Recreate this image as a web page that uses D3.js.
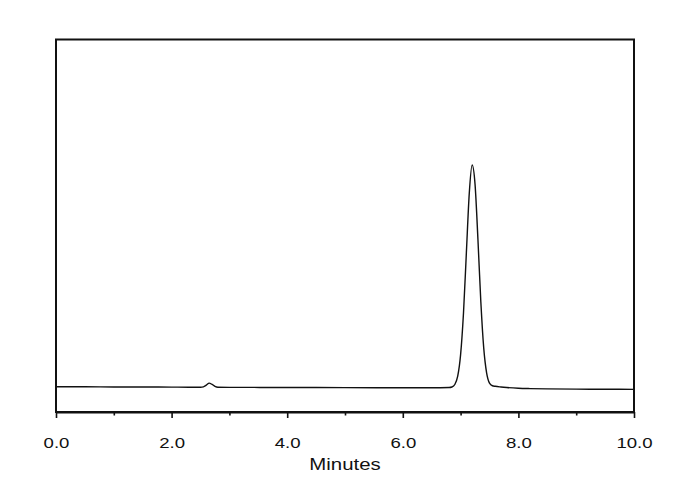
<!DOCTYPE html>
<html>
<head>
<meta charset="utf-8">
<script src="https://cdn.jsdelivr.net/npm/d3@7"></script>
<style>
  html, body { margin: 0; padding: 0; background: #fff; }
  svg { display: block; }
</style>
</head>
<body>
<svg id="chart" width="690" height="490"></svg>
<script>
// Chromatogram signal (arbitrary units)
const times = [
  0.0, 0.5, 1.0, 1.2, 1.5, 2.0, 2.3, 2.5, 2.55, 2.6, 2.65, 2.7, 2.75, 2.8, 3.0,
  4.0, 5.0, 6.0, 6.5, 6.8, 6.85, 6.9, 6.95, 7.0, 7.05, 7.1, 7.15, 7.2, 7.25,
  7.3, 7.35, 7.4, 7.45, 7.5, 7.55, 7.6, 7.7, 7.8, 8.0, 8.2, 8.5, 9.0, 9.5, 10.0
];
const signal = [
  6.78, 6.76, 6.72, 6.70, 6.71, 6.68, 6.66, 6.66, 6.75, 7.2, 7.75, 7.4, 6.9, 6.66, 6.62,
  6.58, 6.54, 6.50, 6.50, 6.58, 6.72, 7.38, 9.6, 15.4, 26.6, 42.8, 58.7, 66.3, 61.1,
  46.3, 29.6, 17.2, 10.5, 7.75, 7.05, 6.9, 6.72, 6.58, 6.38, 6.28, 6.2, 6.15, 6.1, 6.08
];
const majorTicks = [0, 2, 4, 6, 8, 10];
const minorTicks = [1, 3, 5, 7, 9];
const xLabel = "Minutes";

const svg = d3.select("#chart");
const mLeft = 56, mRight = 634, mTop = 39.5, mBottom = 412;
const fontFam = "'Liberation Sans', Arial, sans-serif";

const x = d3.scaleLinear().domain([0, 10]).range([mLeft, mRight]);
const y = d3.scaleLinear().domain([0, 100]).range([mBottom, mTop]);

// frame
svg.append("rect")
  .attr("x", mLeft).attr("y", mTop)
  .attr("width", mRight - mLeft).attr("height", mBottom - mTop)
  .attr("fill", "none").attr("stroke", "#111").attr("stroke-width", 2);

// data line
const data = times.map((t, i) => [t, signal[i]]);
svg.append("path")
  .datum(data)
  .attr("fill", "none")
  .attr("stroke", "#111")
  .attr("stroke-width", 1.4)
  .attr("stroke-linejoin", "round")
  .attr("d", d3.line().x(d => x(d[0])).y(d => y(d[1])).curve(d3.curveMonotoneX));

// major ticks with labels
const xAxis = d3.axisBottom(x)
  .tickValues(majorTicks)
  .tickFormat(d3.format(".1f"))
  .tickSize(6)
  .tickSizeOuter(0)
  .tickPadding(19);
const gx = svg.append("g").attr("transform", `translate(0,${mBottom})`).call(xAxis);
gx.select(".domain").attr("stroke", "#111").attr("stroke-width", 2);
gx.selectAll(".tick line").attr("stroke", "#111").attr("stroke-width", 1.6);
gx.selectAll(".tick text")
  .attr("font-family", fontFam)
  .attr("font-size", 15.5)
  .attr("fill", "#111")
  .attr("transform", "scale(1.2,1)");

// minor ticks
const xMinor = d3.axisBottom(x).tickValues(minorTicks).tickFormat("").tickSize(3.5).tickSizeOuter(0);
const gm = svg.append("g").attr("transform", `translate(0,${mBottom})`).call(xMinor);
gm.select(".domain").remove();
gm.selectAll(".tick line").attr("stroke", "#111").attr("stroke-width", 1.6);

// axis title
svg.append("g")
  .attr("transform", `translate(${(mLeft + mRight) / 2},469.5) scale(1.2,1)`)
  .append("text")
  .attr("text-anchor", "middle")
  .attr("font-family", fontFam)
  .attr("font-size", 17)
  .attr("fill", "#111")
  .text(xLabel);
</script>
</body>
</html>
